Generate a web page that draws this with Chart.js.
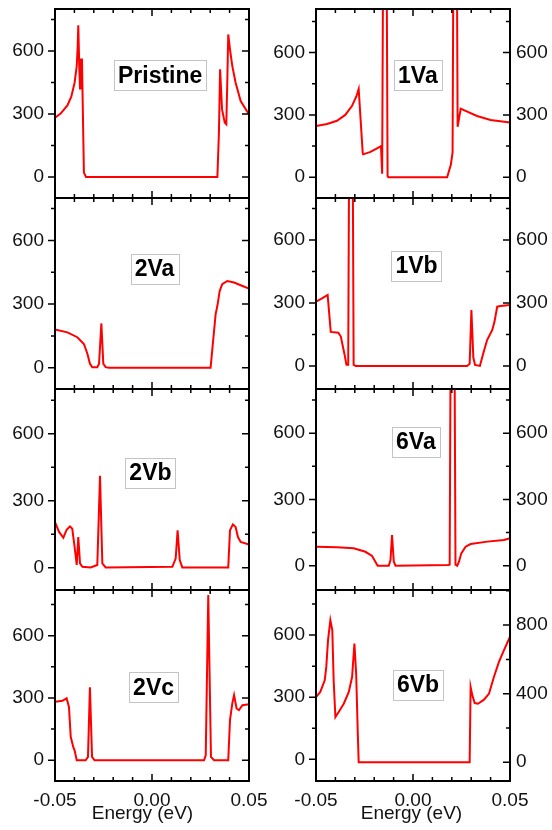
<!DOCTYPE html>
<html>
<head>
<meta charset="utf-8">
<script src="https://cdn.jsdelivr.net/npm/chart.js@4.4.1/dist/chart.umd.min.js"></script>
<style>
  html, body { margin: 0; padding: 0; background: #fff; }
  #wrap { position: relative; width: 552px; height: 830px; overflow: hidden; }
  #wrap canvas { position: absolute; }
</style>
</head>
<body>
<div id="wrap"></div>
<script>
// DOS curves: energy (eV) and DOS per panel
const pristineE = [-0.0500, -0.0471, -0.0436, -0.0416, -0.0399, -0.0388, -0.0383, -0.0380, -0.0375, -0.0371, -0.0366, -0.0361, -0.0356, -0.0351, -0.0340, 0.0337, 0.0345, 0.0351, 0.0361, 0.0375, 0.0383, 0.0388, 0.0393, 0.0402, 0.0414, 0.0431, 0.0457, 0.0500];
const pristineDos = [282, 302, 341, 382, 449, 528, 624, 722, 528, 421, 560, 560, 290, 21, 0, 0, 211, 513, 322, 259, 251, 449, 679, 608, 528, 449, 362, 298];

const v2aE = [-0.0500, -0.0436, -0.0385, -0.0351, -0.0333, -0.0320, -0.0308, -0.0282, -0.0273, -0.0261, -0.0251, -0.0239, -0.0222, 0.0302, 0.0328, 0.0337, 0.0349, 0.0362, 0.0388, 0.0423, 0.0457, 0.0500];
const v2aDos = [180, 167, 144, 112, 66, 19, 3, 3, 19, 209, 19, 3, 0, 0, 253, 292, 362, 394, 409, 402, 389, 373];

const v2bE = [-0.0500, -0.0479, -0.0457, -0.0440, -0.0423, -0.0411, -0.0399, -0.0388, -0.0380, -0.0371, -0.0359, -0.0316, -0.0282, -0.0268, -0.0256, -0.0239, 0.0105, 0.0122, 0.0132, 0.0143, 0.0156, 0.0393, 0.0402, 0.0417, 0.0431, 0.0443, 0.0457, 0.0500];
const v2bDos = [204, 160, 134, 170, 185, 174, 93, 12, 137, 19, 4, 1, 12, 411, 19, 1, 4, 41, 167, 34, 1, 1, 167, 194, 182, 137, 115, 103];

const v2cE = [-0.0500, -0.0462, -0.0440, -0.0428, -0.0419, -0.0406, -0.0399, -0.0388, -0.0342, -0.0330, -0.0320, -0.0309, -0.0296, 0.0268, 0.0277, 0.0290, 0.0304, 0.0320, 0.0393, 0.0402, 0.0414, 0.0423, 0.0436, 0.0448, 0.0466, 0.0500];
const v2cDos = [282, 286, 298, 257, 113, 64, 48, 0, 0, 16, 351, 16, 0, 0, 24, 796, 16, 0, 0, 193, 274, 314, 249, 241, 265, 270];

const v1aE = [-0.0500, -0.0443, -0.0392, -0.0349, -0.0314, -0.0292, -0.0280, -0.0259, -0.0257, -0.0219, -0.0188, -0.0165, -0.0159, -0.0145, -0.0131, -0.0127, 0.0176, 0.0195, 0.0204, 0.0217, 0.0230, 0.0246, 0.0265, 0.0330, 0.0400, 0.0500];
const v1aDos = [247, 256, 272, 300, 344, 389, 425, 114, 110, 122, 138, 150, 17, 3000, 5, 0, 0, 60, 120, 3000, 243, 330, 322, 295, 276, 263];

const v1bE = [-0.0500, -0.0469, -0.0440, -0.0424, -0.0385, -0.0372, -0.0362, -0.0352, -0.0343, -0.0334, -0.0320, -0.0306, -0.0295, 0.0279, 0.0292, 0.0301, 0.0311, 0.0320, 0.0345, 0.0362, 0.0382, 0.0408, 0.0420, 0.0434, 0.0451, 0.0500];
const v1bDos = [306, 322, 338, 162, 158, 140, 95, 50, 5, 5, 3000, 5, 0, 0, 10, 266, 40, 5, 0, 59, 123, 170, 210, 282, 285, 290];

const v6aE = [-0.0500, -0.0392, -0.0306, -0.0245, -0.0211, -0.0194, -0.0182, -0.0125, -0.0116, -0.0108, -0.0099, -0.0090, 0.0180, 0.0189, 0.0204, 0.0219, 0.0228, 0.0237, 0.0249, 0.0271, 0.0297, 0.0383, 0.0469, 0.0500];
const v6aDos = [86, 83, 79, 63, 44, 18, 0, 0, 26, 139, 18, 0, 3, 5, 3000, 5, 0, 18, 56, 86, 98, 109, 116, 124];

// 6Vb is plotted against its own right-hand axis
const v6bE = [-0.0500, -0.0478, -0.0455, -0.0447, -0.0438, -0.0426, -0.0416, -0.0409, -0.0400, -0.0383, -0.0357, -0.0331, -0.0314, -0.0302, -0.0293, -0.0285, -0.0280, 0.0292, 0.0297, 0.0306, 0.0318, 0.0335, 0.0366, 0.0392, 0.0417, 0.0443, 0.0469, 0.0500];
const v6bDos = [380, 410, 478, 556, 712, 829, 771, 478, 263, 293, 341, 410, 497, 693, 517, 185, 0, 0, 439, 390, 345, 341, 365, 400, 497, 585, 654, 732];

const xTicks = [-0.05, 0, 0.05];
const yTicks = [0, 300, 600];
const yTicks6Vb = [0, 400, 800];

// layout of the 2x4 grid (pixels)
const colStart = [0, 262], colWidth = [280, 290];
const colLeft = [55, 316], colRight = [249, 510];
const rowTop = [9, 198, 389, 590, 781];
const RED = '#ff0000';

const panels = [
  {name: 'Pristine', e: pristineE, dos: pristineDos, col: 0, row: 0, yr: [-100, 800], tag: [0.0042, 484]},
  {name: '2Va', e: v2aE, dos: v2aDos, col: 0, row: 1, yr: [-100, 800], tag: [0.0013, 466]},
  {name: '2Vb', e: v2bE, dos: v2bDos, col: 0, row: 2, yr: [-100, 800], tag: [-0.0008, 424]},
  {name: '2Vc', e: v2cE, dos: v2cDos, col: 0, row: 3, yr: [-100, 820], tag: [0.0008, 352], titleAt: -0.0049},
  {name: '1Va', e: v1aE, dos: v1aDos, col: 1, row: 0, yr: [-100, 810], tag: [0.0025, 490]},
  {name: '1Vb', e: v1bE, dos: v1bDos, col: 1, row: 1, yr: [-110, 800], tag: [0.0018, 478]},
  {name: '6Va', e: v6aE, dos: v6aDos, col: 1, row: 2, yr: [-110, 800], tag: [0.0015, 562]},
  {name: '6Vb', e: v6bE, dos: v6bDos, col: 1, row: 3, yr: [-105, 818], y2r: [-110, 1005], y2Ticks: yTicks6Vb, onRight: true, tag: [0.0026, 361], titleAt: -0.0008}
];

Chart.defaults.font.family = '"Liberation Sans", Arial, sans-serif';
Chart.defaults.color = '#111';

const framePlugin = {
  id: 'frame',
  afterDatasetsDraw(chart, args, o) {
    const {ctx, chartArea: a} = chart;
    const sx = chart.scales.x, sy = chart.scales.y;
    const sr = chart.scales.y2 || sy;
    const rStep = o.rightStep;
    ctx.save();
    ctx.strokeStyle = '#000';
    ctx.lineWidth = 1.5;
    ctx.beginPath();
    // top and bottom ticks point inward
    for (let i = -5; i <= 5; i++) {
      const x = sx.getPixelForValue(i / 100);
      const len = i % 5 === 0 ? 7 : 4;
      ctx.moveTo(x, a.top); ctx.lineTo(x, a.top + len);
      ctx.moveTo(x, a.bottom); ctx.lineTo(x, a.bottom - len);
    }
    // left ticks point outward
    for (let v = 0; v <= sy.max; v += 150) {
      const y = sy.getPixelForValue(v);
      const len = v % 300 === 0 ? 7 : 4;
      ctx.moveTo(a.left - len, y); ctx.lineTo(a.left, y);
    }
    // right ticks point inward
    for (let v = 0; v <= sr.max; v += rStep) {
      const y = sr.getPixelForValue(v);
      const len = v % (2 * rStep) === 0 ? 7 : 4;
      ctx.moveTo(a.right - len, y); ctx.lineTo(a.right, y);
    }
    ctx.stroke();
    ctx.lineWidth = 2;
    ctx.strokeRect(a.left, a.top, a.width, a.height);

    // panel name in a thin grey box
    ctx.font = 'bold 23px "Liberation Sans", Arial, sans-serif';
    const tw = ctx.measureText(o.name).width;
    const cx = sx.getPixelForValue(o.tag[0]);
    const cy = sy.getPixelForValue(o.tag[1]);
    const w = Math.round(tw + 8), h = 30;
    const bx = Math.round(cx - w / 2) + 0.5, by = Math.round(cy - h / 2) + 0.5;
    ctx.fillStyle = '#fff';
    ctx.fillRect(bx, by, w, h);
    ctx.strokeStyle = '#c4c4c4';
    ctx.lineWidth = 1;
    ctx.strokeRect(bx, by, w, h);
    ctx.fillStyle = '#000';
    ctx.textAlign = 'center';
    ctx.textBaseline = 'middle';
    ctx.fillText(o.name, cx, cy + 1);

    if (o.titleAt !== undefined) {
      ctx.font = '19px "Liberation Sans", Arial, sans-serif';
      ctx.fillStyle = '#111';
      ctx.textBaseline = 'alphabetic';
      ctx.fillText('Energy (eV)', sx.getPixelForValue(o.titleAt), a.bottom + 38);
    }
    ctx.restore();
  }
};

const wrap = document.getElementById('wrap');

function zeroPad(s) {
  s.paddingTop = 0; s.paddingBottom = 0; s.paddingLeft = 0; s.paddingRight = 0;
}

panels.forEach(p => {
  const bottomRow = p.row === 3;
  const right = p.col === 1;
  const x0 = colStart[p.col];
  const cw = colWidth[p.col];
  const padTop = Math.min(20, rowTop[p.row]);
  const top = rowTop[p.row] - padTop;
  const height = bottomRow ? 830 - top : rowTop[p.row + 1] - top + 20;

  const canvas = document.createElement('canvas');
  canvas.width = cw;
  canvas.height = height;
  canvas.style.left = x0 + 'px';
  canvas.style.top = top + 'px';
  wrap.appendChild(canvas);

  const scales = {
    x: {
      type: 'linear', min: -0.05, max: 0.05, display: bottomRow,
      grid: {display: false, drawTicks: false}, border: {display: false},
      ticks: {padding: 8, font: {size: 19}, maxRotation: 0, autoSkip: false, callback: v => v.toFixed(2)},
      afterBuildTicks: s => { s.ticks = xTicks.map(v => ({value: v})); },
      afterFit: s => { if (bottomRow) s.height = 830 - rowTop[4]; zeroPad(s); }
    },
    y: {
      type: 'linear', position: 'left', min: p.yr[0], max: p.yr[1],
      grid: {display: false, drawTicks: false}, border: {display: false},
      ticks: {padding: 11, font: {size: 19}},
      afterBuildTicks: s => { s.ticks = yTicks.map(v => ({value: v})); },
      afterFit: s => { s.width = colLeft[p.col] - x0; zeroPad(s); }
    }
  };
  if (right) {
    const r = p.y2r || p.yr;
    const rt = p.y2Ticks || yTicks;
    scales.y2 = {
      type: 'linear', position: 'right', min: r[0], max: r[1],
      grid: {display: false, drawTicks: false}, border: {display: false},
      ticks: {padding: 6, font: {size: 19}},
      afterBuildTicks: s => { s.ticks = rt.map(v => ({value: v})); },
      afterFit: s => { s.width = x0 + cw - colRight[1]; zeroPad(s); }
    };
  }

  new Chart(canvas, {
    type: 'line',
    data: {
      datasets: [{
        data: p.e.map((x, i) => ({x: x, y: p.dos[i]})),
        yAxisID: p.onRight ? 'y2' : 'y',
        borderColor: RED,
        borderWidth: 2,
        pointRadius: 0,
        tension: 0,
        fill: false
      }]
    },
    options: {
      responsive: false,
      animation: false,
      devicePixelRatio: 1,
      layout: {
        padding: {top: padTop, bottom: bottomRow ? 0 : 20, left: 0, right: right ? 0 : x0 + cw - colRight[0]}
      },
      plugins: {
        legend: {display: false},
        tooltip: {enabled: false},
        frame: {name: p.name, tag: p.tag, titleAt: p.titleAt, rightStep: p.y2Ticks ? 200 : 150}
      },
      scales: scales
    },
    plugins: [framePlugin]
  });
});
</script>
</body>
</html>
